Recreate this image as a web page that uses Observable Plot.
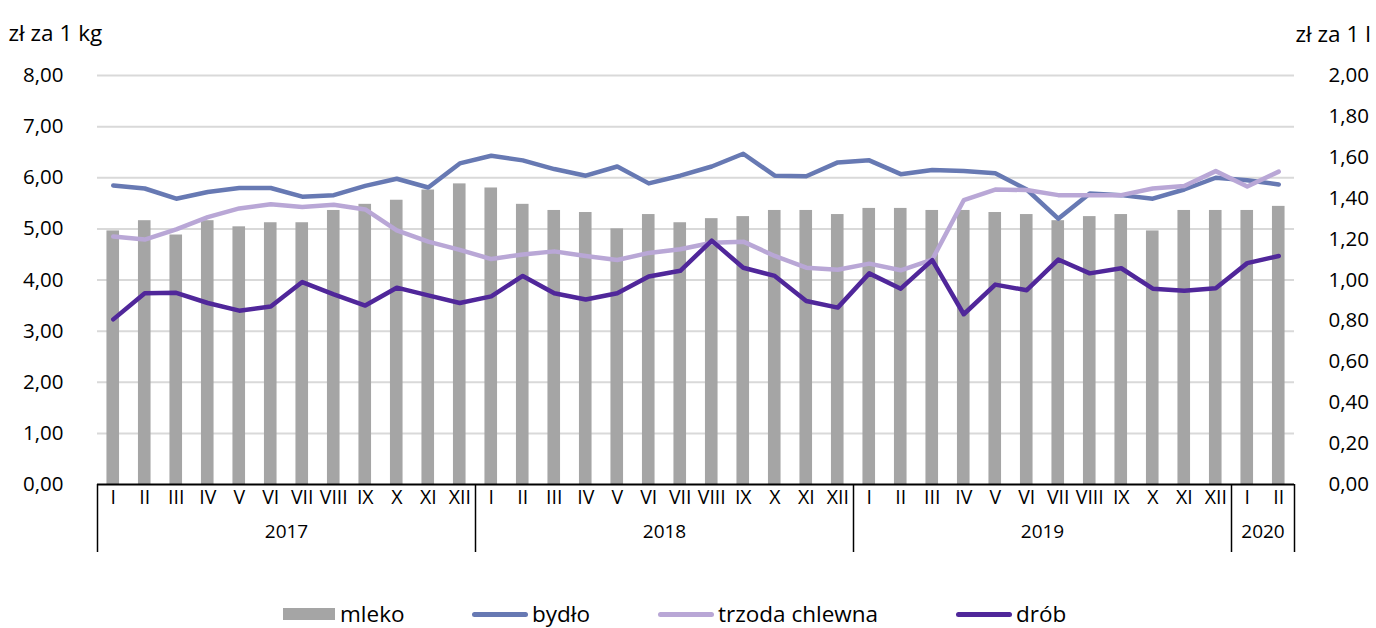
<!DOCTYPE html>
<html>
<head>
<meta charset="utf-8">
<script src="https://cdn.jsdelivr.net/npm/d3@7"></script>
<script src="https://cdn.jsdelivr.net/npm/@observablehq/plot@0.6"></script>
<style>
  html, body { margin: 0; padding: 0; background: #fff; }
  body { width: 1376px; height: 628px; overflow: hidden; position: relative; font-family: "Open Sans", "Noto Sans", sans-serif; }
  #legend { position: absolute; left: 0; top: 600px; width: 1376px; height: 28px; font-size: 22.5px; line-height: 1; color: #000; }
  .item { position: absolute; top: 0; height: 28px; display: flex; align-items: center; }
  .item span { line-height: 1; }
  .sw-rect { width: 52px; height: 12px; background: #a5a5a5; margin-right: 5px; }
  .sw-line { width: 56px; height: 5px; border-radius: 3px; margin-right: 4px; }
</style>
</head>
<body>
<div id="chart"></div>
<div id="legend"></div>
<script>
const months = ["I","II","III","IV","V","VI","VII","VIII","IX","X","XI","XII",
                "I","II","III","IV","V","VI","VII","VIII","IX","X","XI","XII",
                "I","II","III","IV","V","VI","VII","VIII","IX","X","XI","XII",
                "I","II"];
const years = ["2017","2017","2017","2017","2017","2017","2017","2017","2017","2017","2017","2017",
               "2018","2018","2018","2018","2018","2018","2018","2018","2018","2018","2018","2018",
               "2019","2019","2019","2019","2019","2019","2019","2019","2019","2019","2019","2019",
               "2020","2020"];
// mleko – zł za 1 l (right axis)
const mleko = [1.24,1.29,1.22,1.29,1.26,1.28,1.28,1.34,1.37,1.39,1.44,1.47,
               1.45,1.37,1.34,1.33,1.25,1.32,1.28,1.30,1.31,1.34,1.34,1.32,
               1.35,1.35,1.34,1.34,1.33,1.32,1.29,1.31,1.32,1.24,1.34,1.34,
               1.34,1.36];
// zł za 1 kg (left axis)
const bydlo = [5.85,5.79,5.59,5.72,5.80,5.80,5.63,5.66,5.84,5.98,5.81,6.28,
               6.43,6.34,6.17,6.04,6.22,5.89,6.04,6.22,6.47,6.04,6.03,6.30,
               6.34,6.07,6.15,6.13,6.09,5.77,5.20,5.69,5.66,5.59,5.77,6.00,
               5.95,5.87];
const trzoda = [4.85,4.79,4.99,5.23,5.40,5.48,5.43,5.47,5.38,4.97,4.75,4.59,
                4.41,4.50,4.56,4.47,4.39,4.53,4.60,4.73,4.75,4.47,4.24,4.20,
                4.32,4.19,4.40,5.56,5.77,5.76,5.66,5.66,5.66,5.79,5.84,6.13,
                5.83,6.12];
const drob = [3.23,3.74,3.75,3.55,3.40,3.48,3.96,3.72,3.50,3.85,3.70,3.55,
              3.68,4.08,3.74,3.62,3.74,4.07,4.18,4.77,4.24,4.08,3.59,3.46,
              4.13,3.83,4.39,3.33,3.91,3.80,4.40,4.13,4.23,3.83,3.79,3.84,
              4.33,4.47];
const leftTicks = [0,1,2,3,4,5,6,7,8];
const rightTicks = [0,0.2,0.4,0.6,0.8,1.0,1.2,1.4,1.6,1.8,2.0];

const series = [
  {name: "bydło", values: bydlo, color: "#6779b3"},
  {name: "trzoda chlewna", values: trzoda, color: "#b9a7d6"},
  {name: "drób", values: drob, color: "#50279a"}
];

const rows = months.map((m, i) => ({i, month: m, year: years[i], mleko: mleko[i]}));
const lineRows = series.flatMap(s => s.values.map((v, i) => ({i, v, name: s.name})));
const yearGroups = d3.groups(rows, d => d.year).map(([year, rs]) => ({
  year, center: d3.mean(rs, r => r.i), start: d3.min(rs, r => r.i) - 0.5
}));
const boundaries = [...yearGroups.map(g => g.start), rows.length - 0.5];
const ratio = 8 / 2; // left max / right max
const fmt = v => v.toFixed(2).replace(".", ",");

const plot = Plot.plot({
  width: 1376,
  height: 590,
  marginLeft: 97,
  marginRight: 82,
  marginTop: 75,
  marginBottom: 106,
  style: {fontFamily: "'Open Sans', 'Noto Sans', sans-serif", fontSize: "20px", color: "#000", background: "#fff"},
  x: {type: "linear", domain: [-0.5, rows.length - 0.5], axis: null},
  y: {domain: [0, 8], axis: null},
  color: {domain: series.map(s => s.name), range: series.map(s => s.color)},
  marks: [
    Plot.ruleY(leftTicks.filter(t => t > 0), {stroke: "#d9d9d9", strokeWidth: 2}),
    Plot.axisY(leftTicks, {anchor: "left", tickSize: 0, tickPadding: 23, dx: -11, tickFormat: fmt, fontSize: 20.5, label: null}),
    Plot.axisY(rightTicks.map(t => t * ratio), {anchor: "right", tickSize: 0, tickPadding: 22, dx: 12, tickFormat: d => fmt(d / ratio), fontSize: 20.5, label: null}),
    Plot.rectY(rows, {x1: d => d.i - 0.2, x2: d => d.i + 0.2, y1: 0, y2: d => d.mleko * ratio, fill: "#a5a5a5"}),
    Plot.line(lineRows, {x: "i", y: "v", z: "name", stroke: "name", strokeWidth: 4.5, strokeLinejoin: "round", strokeLinecap: "round"}),
    Plot.ruleY([0], {stroke: "#000", strokeWidth: 2}),
    Plot.ruleX(boundaries, {stroke: "#000", strokeWidth: 1.5, insetTop: 409, insetBottom: -68}),
    Plot.text(rows, {x: "i", text: "month", frameAnchor: "bottom", dy: 19, fontSize: 19.5}),
    Plot.text(yearGroups, {x: "center", text: "year", frameAnchor: "bottom", dy: 53, fontSize: 19}),
    Plot.text(["zł za 1 kg"], {frameAnchor: "top-left", dx: -89, dy: -50, textAnchor: "start", fontSize: 22.5}),
    Plot.text(["zł za 1 l"], {frameAnchor: "top-right", dx: 1, dy: -49, textAnchor: "start", fontSize: 22.5})
  ]
});
document.getElementById("chart").appendChild(plot);

const legendItems = [
  {name: "mleko", type: "rect", color: "#a5a5a5", left: 283},
  {name: "bydło", type: "line", color: series[0].color, left: 472},
  {name: "trzoda chlewna", type: "line", color: series[1].color, left: 658},
  {name: "drób", type: "line", color: series[2].color, left: 956}
];
const legend = d3.select("#legend");
for (const it of legendItems) {
  const div = legend.append("div").attr("class", "item").style("left", it.left + "px");
  div.append("div").attr("class", it.type === "rect" ? "sw-rect" : "sw-line").style("background", it.color);
  div.append("span").text(it.name);
}
</script>
</body>
</html>
